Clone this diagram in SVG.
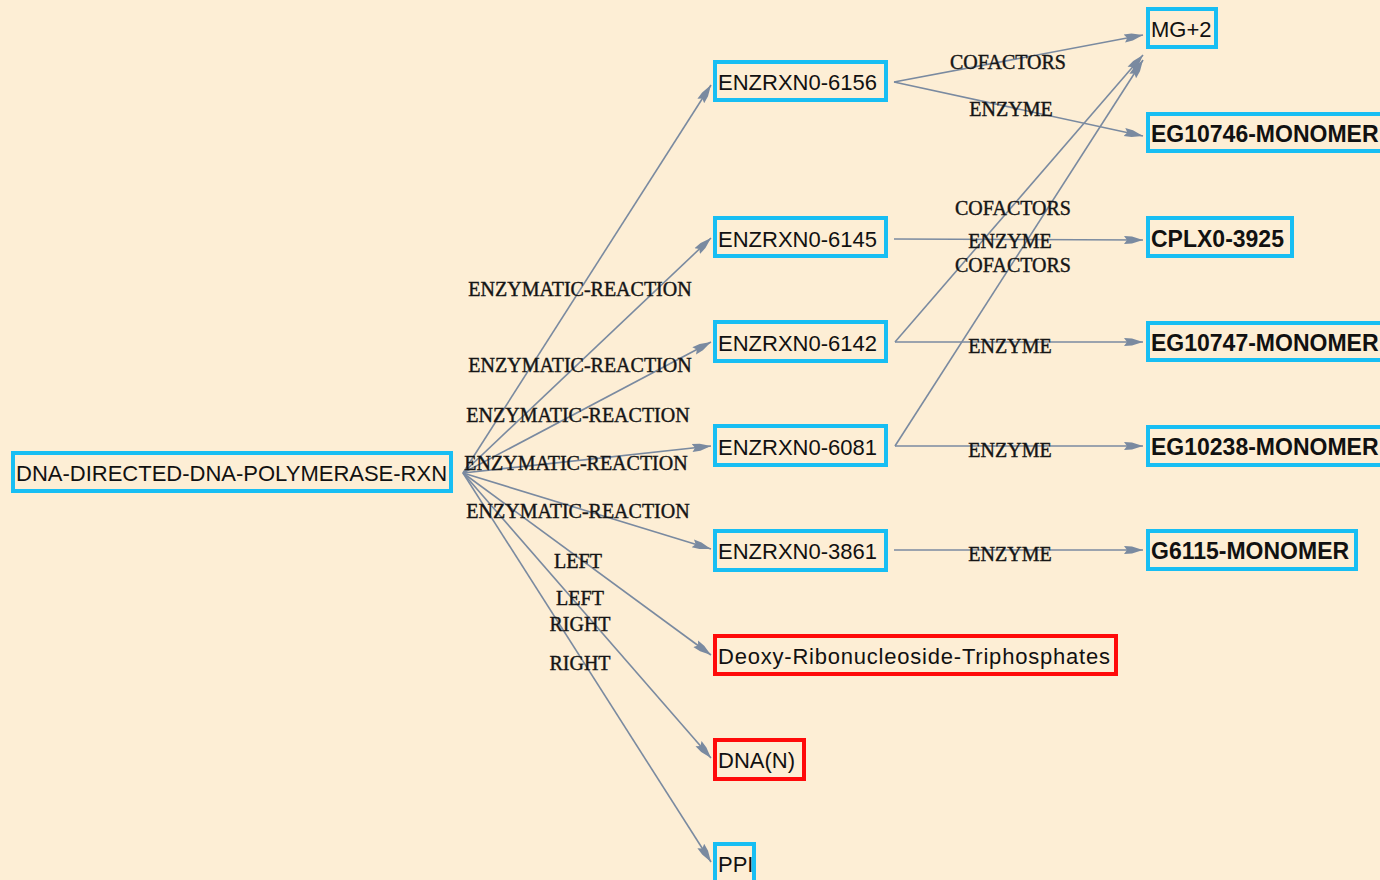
<svg xmlns="http://www.w3.org/2000/svg" width="1380" height="880" viewBox="0 0 1380 880">
  <style>
    .bg { fill: #FDEED5; }
    .node rect { fill: none; stroke-width: 4; }
    .blue rect { stroke: #18BEF3; }
    .red rect { stroke: #FF0A0A; }
    .node text { font-family: "Liberation Sans", Arial, sans-serif; font-size: 22px; fill: #111; }
    .node.bold text { font-weight: bold; font-size: 23px; }
    .edge { stroke: #7A8AA0; stroke-width: 1.6; fill: none; marker-end: url(#arrow); }
    .elabel { font-family: "Liberation Serif", "Times New Roman", serif; font-size: 20px; fill: #151515; stroke: #151515; stroke-width: 0.4; text-anchor: middle; }
  </style>
  <defs>
    <marker id="arrow" markerUnits="userSpaceOnUse" markerWidth="20" markerHeight="12" refX="19" refY="6" orient="auto">
      <path d="M0,2 L8,2.5 L19,6 L8,9.5 L0,10 L3,6 z" fill="#7A8AA0"/>
    </marker>
  </defs>

  <rect class="bg" x="0" y="0" width="1380" height="880"/>

  <!-- connectors -->
  <g id="connectors">
    <line class="edge" x1="463" y1="473" x2="711" y2="85"/>
    <line class="edge" x1="463" y1="473" x2="711" y2="238"/>
    <line class="edge" x1="463" y1="473" x2="711" y2="342"/>
    <line class="edge" x1="463" y1="473" x2="711" y2="446"/>
    <line class="edge" x1="463" y1="473" x2="711" y2="549"/>
    <line class="edge" x1="463" y1="473" x2="711" y2="655"/>
    <line class="edge" x1="463" y1="473" x2="711" y2="758"/>
    <line class="edge" x1="463" y1="473" x2="711" y2="862"/>

    <line class="edge" x1="894" y1="82" x2="1143" y2="35"/>
    <line class="edge" x1="894" y1="82" x2="1143" y2="136"/>
    <line class="edge" x1="894" y1="239" x2="1143" y2="240"/>
    <line class="edge" x1="895" y1="342" x2="1143" y2="55"/>
    <line class="edge" x1="895" y1="342" x2="1143" y2="342"/>
    <line class="edge" x1="895" y1="446" x2="1143" y2="60"/>
    <line class="edge" x1="895" y1="446" x2="1143" y2="446"/>
    <line class="edge" x1="894" y1="550" x2="1143" y2="550"/>

    <text class="elabel" x="580" y="296">ENZYMATIC-REACTION</text>
    <text class="elabel" x="580" y="372">ENZYMATIC-REACTION</text>
    <text class="elabel" x="578" y="422">ENZYMATIC-REACTION</text>
    <text class="elabel" x="576" y="470">ENZYMATIC-REACTION</text>
    <text class="elabel" x="578" y="518">ENZYMATIC-REACTION</text>
    <text class="elabel" x="578" y="568">LEFT</text>
    <text class="elabel" x="580" y="605">LEFT</text>
    <text class="elabel" x="580" y="631">RIGHT</text>
    <text class="elabel" x="580" y="670">RIGHT</text>

    <text class="elabel" x="1008" y="69">COFACTORS</text>
    <text class="elabel" x="1011" y="116">ENZYME</text>
    <text class="elabel" x="1013" y="215">COFACTORS</text>
    <text class="elabel" x="1010" y="248">ENZYME</text>
    <text class="elabel" x="1013" y="272">COFACTORS</text>
    <text class="elabel" x="1010" y="353">ENZYME</text>
    <text class="elabel" x="1010" y="457">ENZYME</text>
    <text class="elabel" x="1010" y="561">ENZYME</text>
  </g>

  <!-- nodes -->
  <g id="DNA-DIRECTED-DNA-POLYMERASE-RXN" class="node blue">
    <rect x="13" y="453" width="438" height="38"/>
    <text x="16" y="481">DNA-DIRECTED-DNA-POLYMERASE-RXN</text>
  </g>
  <g id="ENZRXN0-6156" class="node blue">
    <rect x="715" y="62" width="171" height="38"/>
    <text x="718" y="90">ENZRXN0-6156</text>
  </g>
  <g id="ENZRXN0-6145" class="node blue">
    <rect x="715" y="218" width="171" height="38"/>
    <text x="718" y="247">ENZRXN0-6145</text>
  </g>
  <g id="ENZRXN0-6142" class="node blue">
    <rect x="715" y="322" width="171" height="39"/>
    <text x="718" y="351">ENZRXN0-6142</text>
  </g>
  <g id="ENZRXN0-6081" class="node blue">
    <rect x="715" y="426" width="171" height="39"/>
    <text x="718" y="455">ENZRXN0-6081</text>
  </g>
  <g id="ENZRXN0-3861" class="node blue">
    <rect x="715" y="531" width="171" height="39"/>
    <text x="718" y="559">ENZRXN0-3861</text>
  </g>
  <g id="Deoxy-Ribonucleoside-Triphosphates" class="node red">
    <rect x="715" y="636" width="401" height="38"/>
    <text x="718" y="664" textLength="392" lengthAdjust="spacing">Deoxy-Ribonucleoside-Triphosphates</text>
  </g>
  <g id="DNA-N" class="node red">
    <rect x="715" y="740" width="89" height="39"/>
    <text x="718" y="768">DNA(N)</text>
  </g>
  <g id="PPI" class="node blue">
    <rect x="715" y="844" width="39" height="39"/>
    <text x="718" y="872">PPI</text>
  </g>
  <g id="MG-2" class="node blue">
    <rect x="1148" y="9" width="68" height="38"/>
    <text x="1151" y="37">MG+2</text>
  </g>
  <g id="EG10746-MONOMER" class="node blue bold">
    <rect x="1148" y="114" width="240" height="37"/>
    <text x="1151" y="142">EG10746-MONOMER</text>
  </g>
  <g id="CPLX0-3925" class="node blue bold">
    <rect x="1148" y="218" width="144" height="38"/>
    <text x="1151" y="247">CPLX0-3925</text>
  </g>
  <g id="EG10747-MONOMER" class="node blue bold">
    <rect x="1148" y="323" width="240" height="37"/>
    <text x="1151" y="351">EG10747-MONOMER</text>
  </g>
  <g id="EG10238-MONOMER" class="node blue bold">
    <rect x="1148" y="427" width="240" height="38"/>
    <text x="1151" y="455">EG10238-MONOMER</text>
  </g>
  <g id="G6115-MONOMER" class="node blue bold">
    <rect x="1148" y="531" width="208" height="38"/>
    <text x="1151" y="559">G6115-MONOMER</text>
  </g>
</svg>
